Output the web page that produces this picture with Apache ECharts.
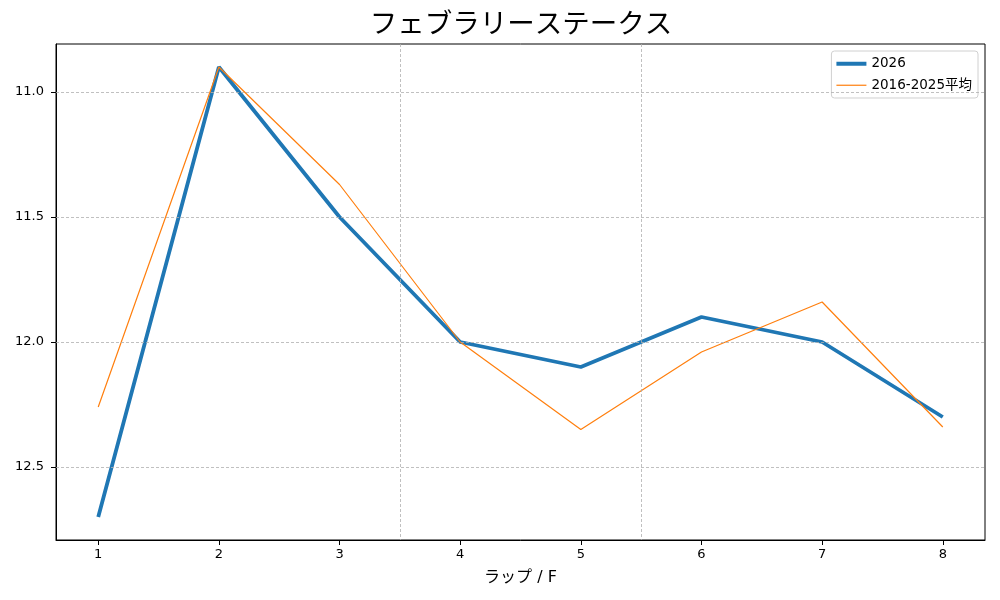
<!DOCTYPE html>
<html>
<head>
<meta charset="utf-8">
<script src="https://cdn.jsdelivr.net/npm/echarts@6/dist/echarts.min.js"></script>
<style>html,body{margin:0;padding:0;background:#fff}#c{width:1000px;height:600px}</style>
</head>
<body>
<div id="c"></div>
<script>
const laps = [1, 2, 3, 4, 5, 6, 7, 8];
const values2026 = [12.7, 10.9, 11.5, 12.0, 12.1, 11.9, 12.0, 12.3];
const valuesAvg = [12.26, 10.9, 11.37, 12.0, 12.35, 12.04, 11.84, 12.34];
const yTicks = [11.0, 11.5, 12.0, 12.5];
const xTicks = [1, 2, 3, 4, 5, 6, 7, 8];
const xGrid = [3.5, 5.5];

const font = '"DejaVu Sans", "Noto Sans CJK JP", sans-serif';
const chart = echarts.init(document.getElementById('c'));
const gridLineStyle = {color: '#b0b0b0', type: [3, 2], width: 0.8};
chart.setOption({
  animation: false,
  title: {
    text: 'フェブラリーステークス', left: 516, top: 7, textAlign: 'center',
    textStyle: {fontFamily: font, fontSize: 27.5, fontWeight: 'normal', color: '#000'}
  },
  legend: {
    orient: 'vertical', right: 22, top: 51,
    symbolKeepAspect: true,
    data: [
      {name: '2026', icon: 'path://M0,0 L300,0 L300,40 L0,40 Z', itemStyle: {color: '#1f77b4'}},
      {name: '2016-2025平均', icon: 'path://M0,0 L300,0 L300,12 L0,12 Z', itemStyle: {color: '#ff7f0e'}}
    ],
    itemWidth: 30, itemHeight: 12, itemGap: 8,
    padding: [6, 6, 6, 5],
    borderColor: '#d0d0d0', borderWidth: 1, borderRadius: 3,
    textStyle: {fontFamily: font, fontSize: 13.5, color: '#000'}
  },
  grid: {left: 56, right: 15, top: 44, bottom: 60, show: true, borderColor: '#000', borderWidth: 1},
  xAxis: {
    type: 'value', min: 0.65, max: 8.35,
    name: 'ラップ / F', nameLocation: 'middle', nameGap: 30,
    nameTextStyle: {fontFamily: font, fontSize: 16, color: '#000'},
    axisLine: {show: true, lineStyle: {color: '#000'}},
    axisTick: {show: true, length: 5, lineStyle: {color: '#000'}, customValues: xTicks},
    axisLabel: {fontFamily: font, fontSize: 13, color: '#000', margin: 8, customValues: xTicks, formatter: v => String(v)},
    splitLine: {show: false}
  },
  yAxis: {
    type: 'value', inverse: true, min: 10.808, max: 12.792,
    axisLine: {show: true, lineStyle: {color: '#000'}},
    axisTick: {show: true, length: 5, lineStyle: {color: '#000'}, customValues: yTicks},
    axisLabel: {fontFamily: font, fontSize: 13, color: '#000', margin: 12, customValues: yTicks, formatter: v => v.toFixed(1)},
    splitLine: {show: false}
  },
  series: [
    {
      type: 'line', name: 'grid', data: [], z: 1, silent: true,
      markLine: {
        silent: true, symbol: 'none', label: {show: false}, animation: false,
        lineStyle: gridLineStyle,
        data: yTicks.map(v => ({yAxis: v})).concat(xGrid.map(v => ({xAxis: v})))
      }
    },
    {
      type: 'line', name: '2026', z: 3,
      data: laps.map((x, i) => [x, values2026[i]]),
      showSymbol: false, symbol: 'none',
      itemStyle: {color: '#1f77b4'},
      lineStyle: {color: '#1f77b4', width: 3.8}
    },
    {
      type: 'line', name: '2016-2025平均', z: 4,
      data: laps.map((x, i) => [x, valuesAvg[i]]),
      showSymbol: false, symbol: 'none',
      itemStyle: {color: '#ff7f0e'},
      lineStyle: {color: '#ff7f0e', width: 1.2}
    }
  ]
});
</script>
</body>
</html>
